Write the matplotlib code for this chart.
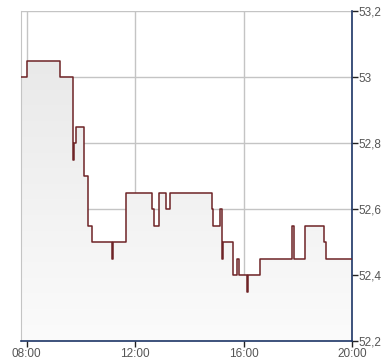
import matplotlib
matplotlib.use("Agg")
import matplotlib.pyplot as plt
import numpy as np
from matplotlib.patches import Polygon

times = ["07:47", "08:00", "09:13", "09:42", "09:45", "09:50", "10:06", "10:17", "10:24",
         "11:08", "11:12", "11:39", "12:38", "12:43", "12:52", "13:09", "13:18", "14:50",
         "14:52", "15:07", "15:12", "15:15", "15:37", "15:46", "15:51", "16:08", "16:11",
         "16:37", "17:47", "17:52", "18:17", "18:57", "19:03", "20:00"]
prices = [53.00, 53.05, 53.00, 52.75, 52.80, 52.85, 52.70, 52.55, 52.50,
          52.45, 52.50, 52.65, 52.60, 52.55, 52.65, 52.60, 52.65, 52.60,
          52.55, 52.60, 52.45, 52.50, 52.40, 52.45, 52.40, 52.35, 52.40,
          52.45, 52.55, 52.45, 52.55, 52.50, 52.45, 52.45]
y_ticks = [52.2, 52.4, 52.6, 52.8, 53.0, 53.2]
y_labels = ["52,2", "52,4", "52,6", "52,8", "53", "53,2"]
x_ticks = [8, 12, 16, 20]
x_labels = ["08:00", "12:00", "16:00", "20:00"]

def to_h(s):
    h, m = s.split(":")
    return int(h) + int(m) / 60.0

x = np.array([to_h(t) for t in times])
y = np.array(prices)

fig = plt.figure(figsize=(3.9, 3.64), dpi=100)
ax = fig.add_axes([20.7 / 390, 1 - 341 / 364, (352 - 20.7) / 390, (341 - 11) / 364])
xmin, xmax = x[0], 20.0
ymin, ymax = 52.2, 53.2
ax.set_xlim(xmin, xmax)
ax.set_ylim(ymin, ymax)

# step polygon for fill
sx, sy = [], []
for i in range(len(x)):
    if i > 0:
        sx.append(x[i]); sy.append(y[i - 1])
    sx.append(x[i]); sy.append(y[i])
verts = [(xmin, ymin)] + list(zip(sx, sy)) + [(xmax, ymin)]
poly = Polygon(verts, closed=True, facecolor="none", edgecolor="none")
ax.add_patch(poly)
grad = np.linspace(0, 1, 256).reshape(-1, 1)
from matplotlib.colors import LinearSegmentedColormap
cmap = LinearSegmentedColormap.from_list("g", ["#fbfbfb", "#e6e6e6"])
im = ax.imshow(grad, cmap=cmap, aspect="auto", extent=[xmin, xmax, ymin, ymax],
               origin="lower", zorder=1)
im.set_clip_path(poly)

ax.grid(True, color="#c4c4c4", linewidth=1.0, zorder=0)
ax.set_axisbelow(True)
ax.step(x, y, where="post", color="#6e2326", linewidth=1.1, zorder=3)

ax.set_yticks(y_ticks)
ax.set_yticklabels(y_labels)
ax.set_xticks(x_ticks)
ax.set_xticklabels(x_labels)
ax.yaxis.tick_right()
ax.tick_params(axis="y", direction="out", length=4, width=1, color="#222222",
               labelcolor="#555555", labelsize=8.5, pad=1)
ax.tick_params(axis="x", direction="out", length=4, width=1, color="#222222",
               labelcolor="#555555", labelsize=8.5, pad=1)
for lab in ax.get_xticklabels() + ax.get_yticklabels():
    lab.set_fontfamily("Liberation Sans")

ax.spines["top"].set_visible(False)
ax.spines["left"].set_color("#c4c4c4")
ax.spines["right"].set_color("#1c3566")
ax.spines["bottom"].set_color("#1c3566")
ax.spines["right"].set_linewidth(1.2)
ax.spines["bottom"].set_linewidth(1.2)

fig.savefig("out.png", dpi=100, facecolor="white")
